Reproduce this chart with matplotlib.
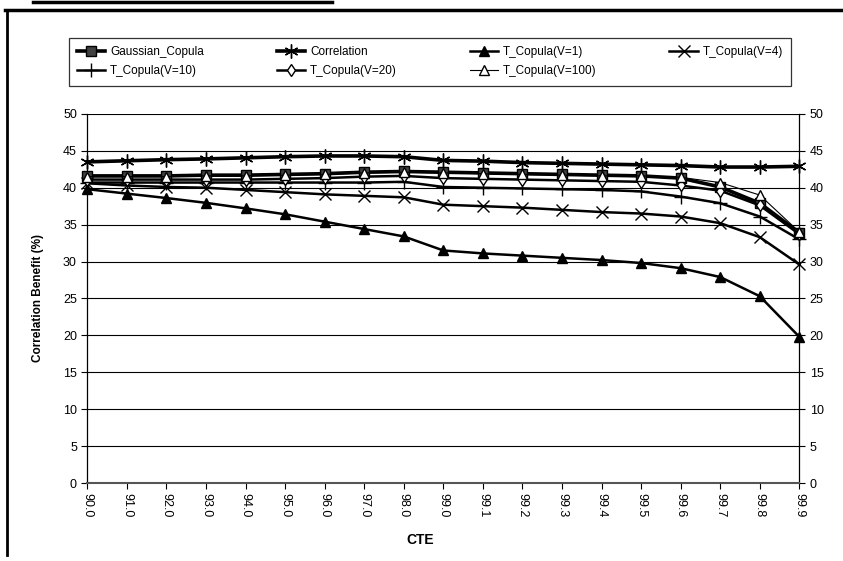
import matplotlib.pyplot as plt
from matplotlib.lines import Line2D

plt.rcParams['font.family'] = ['Liberation Sans', 'DejaVu Sans']

# CTE levels on the category axis
cte_labels = ['90.0', '91.0', '92.0', '93.0', '94.0', '95.0', '96.0', '97.0', '98.0',
              '99.0', '99.1', '99.2', '99.3', '99.4', '99.5', '99.6', '99.7', '99.8', '99.9']

# correlation benefit (%) per method
gaussian_copula = [41.6, 41.6, 41.6, 41.7, 41.7, 41.8, 41.9, 42.1, 42.2, 42.1,
                   42.0, 41.9, 41.8, 41.7, 41.6, 41.3, 40.1, 37.9, 33.9]
correlation = [43.5, 43.65, 43.8, 43.9, 44.05, 44.2, 44.3, 44.3, 44.2, 43.7,
               43.6, 43.4, 43.3, 43.2, 43.1, 43.0, 42.8, 42.8, 42.9]
t_copula_v1 = [39.8, 39.2, 38.6, 37.95, 37.2, 36.4, 35.4, 34.4, 33.4, 31.5,
               31.1, 30.8, 30.5, 30.2, 29.8, 29.1, 27.9, 25.3, 19.8]
t_copula_v4 = [40.6, 40.3, 40.1, 40.0, 39.7, 39.4, 39.1, 38.9, 38.7, 37.7,
               37.5, 37.3, 37.0, 36.7, 36.5, 36.1, 35.2, 33.3, 29.6]
t_copula_v10 = [40.7, 40.7, 40.7, 40.7, 40.7, 40.7, 40.7, 40.7, 40.8, 40.1,
                40.0, 39.9, 39.8, 39.7, 39.5, 38.8, 37.9, 36.1, 33.0]
t_copula_v20 = [41.1, 41.1, 41.1, 41.1, 41.1, 41.2, 41.3, 41.5, 41.6, 41.3,
                41.2, 41.1, 41.0, 40.9, 40.8, 40.3, 39.6, 37.6, 33.7]
t_copula_v100 = [41.5, 41.5, 41.5, 41.6, 41.6, 41.7, 41.8, 42.0, 42.1, 42.0,
                 41.9, 41.8, 41.7, 41.6, 41.6, 41.4, 40.7, 39.0, 34.0]

fig = plt.figure(figsize=(8.43, 5.61), dpi=100)
ax = fig.add_axes([0.1036, 0.139, 0.8446, 0.658])
x = list(range(len(cte_labels)))

# name, values, line width, marker, marker size, face colour
series = [
    ('Gaussian_Copula', gaussian_copula, 2.6, 's', 7, '#404040'),
    ('Correlation', correlation, 2.6, (6, 2, 0), 10, 'black'),
    ('T_Copula(V=1)', t_copula_v1, 1.8, '^', 7, 'black'),
    ('T_Copula(V=4)', t_copula_v4, 1.8, 'x', 9, 'black'),
    ('T_Copula(V=10)', t_copula_v10, 1.8, '+', 10, 'black'),
    ('T_Copula(V=20)', t_copula_v20, 1.8, 'd', 6, 'white'),
    ('T_Copula(V=100)', t_copula_v100, 0.8, '^', 7, 'white'),
]

handles = []
for name, vals, lw, mk, ms, fc in series:
    h, = ax.plot(x, vals, color='black', lw=lw, marker=mk, markersize=ms,
                 markerfacecolor=fc, markeredgecolor='black', markeredgewidth=1.0,
                 label=name, clip_on=False, zorder=3)
    handles.append(h)

ax.set_xlim(0, len(cte_labels) - 1)
ax.set_ylim(0, 50)
ax.set_yticks(range(0, 51, 5))
ax.yaxis.grid(True, color='black', lw=0.8)
ax.set_axisbelow(True)
ax.set_xticks(x)
ax.set_xticklabels(cte_labels, rotation=-90)
ax.tick_params(axis='y', left=True, right=True, labelleft=True, labelright=True,
               direction='out', length=4, labelsize=9, width=0.8)
ax.tick_params(axis='x', direction='out', length=4, labelsize=9, width=0.8)
ax.spines['top'].set_visible(False)
ax.spines['bottom'].set_color('#555555')
ax.spines['bottom'].set_linewidth(1.5)
for s in ('left', 'right'):
    ax.spines[s].set_linewidth(0.9)

ax.set_ylabel('Correlation Benefit (%)', fontweight='bold', fontsize=8.5)
ax.yaxis.set_label_coords(-43 / 712, 0.5)
fig.text(420 / 843, 1 - 540 / 561, 'CTE', ha='center', va='center',
         fontweight='bold', fontsize=10)

# legend reads row by row across four columns
order = [0, 4, 1, 5, 2, 6, 3]
leg = fig.legend([handles[i] for i in order], [handles[i].get_label() for i in order],
                 loc='upper left', bbox_to_anchor=(63 / 843, 1 - 82 / 561, 734 / 843, 50 / 561),
                 mode='expand', ncol=4, fontsize=8.5, frameon=True, fancybox=False,
                 edgecolor='black', handlelength=2.4, handletextpad=0.4,
                 borderpad=0.7, labelspacing=0.6)
leg.get_frame().set_linewidth(0.9)

# outer frame lines
H = 561.0
W = 843.0
fig.add_artist(Line2D([33 / W, 332 / W], [1 - 1.5 / H, 1 - 1.5 / H], color='black', lw=2.5))
fig.add_artist(Line2D([5 / W, 1.0], [1 - 9.5 / H, 1 - 9.5 / H], color='black', lw=2.5))
fig.add_artist(Line2D([6.5 / W, 6.5 / W], [1 - 9.5 / H, 1 - 555 / H], color='black', lw=2.0))

fig.savefig('out.png', dpi=100)
